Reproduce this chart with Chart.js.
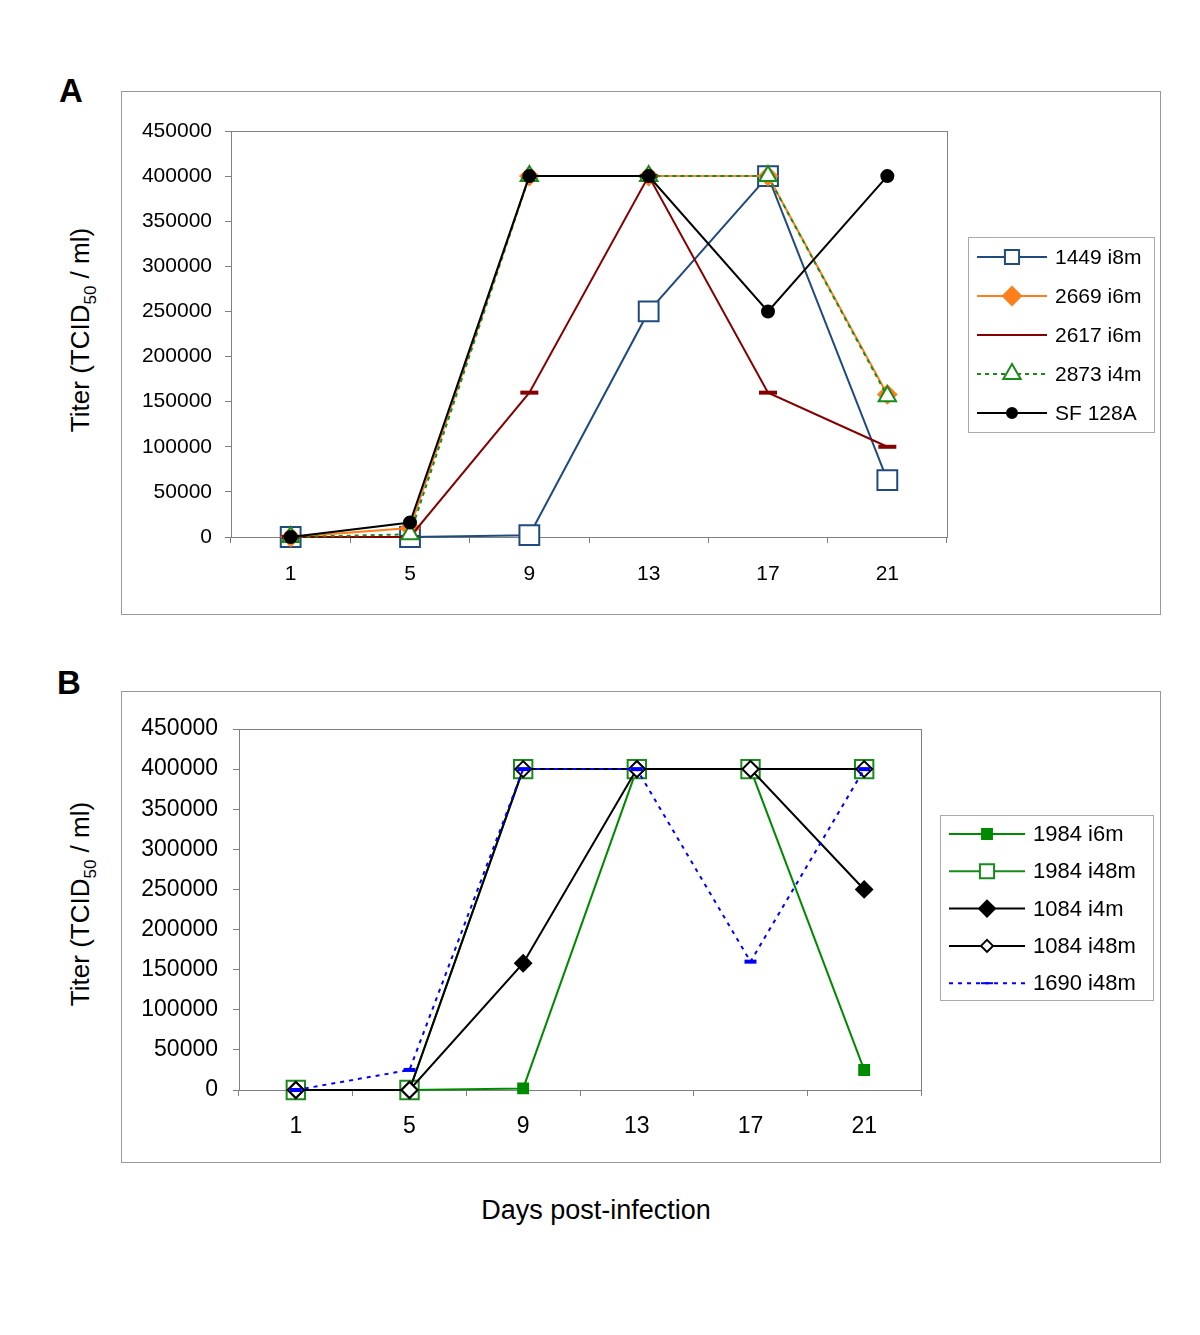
<!DOCTYPE html>
<html>
<head>
<meta charset="utf-8">
<script src="https://cdn.jsdelivr.net/npm/chart.js@4.4.1/dist/chart.umd.min.js"></script>
<style>
  body { margin: 0; background: #fff; font-family: 'Liberation Sans', Arial, sans-serif; }
  #page { position: relative; width: 1200px; height: 1335px; }
  canvas { position: absolute; }
  .panel { position: absolute; font-weight: bold; font-size: 33px; }
  .ytitle { position: absolute; transform: translate(-50%, -50%) rotate(-90deg); white-space: nowrap; font-size: 26px; }
  .ytitle sub { font-size: 17px; }
  .xtitle { position: absolute; left: 596px; top: 1210px; transform: translate(-50%, -50%); font-size: 27px; white-space: nowrap; }
</style>
</head>
<body>
<div id="page">
  <div class="panel" style="left:59px; top:72px;">A</div>
  <div class="panel" style="left:57px; top:664px;">B</div>
  <div class="ytitle" style="left:83px; top:330px;">Titer (TCID<sub>50</sub> / ml)</div>
  <div class="ytitle" style="left:83px; top:904px;">Titer (TCID<sub>50</sub> / ml)</div>
  <canvas id="chartA" width="1040" height="524" style="left:121px; top:91px;"></canvas>
  <canvas id="chartB" width="1040" height="472" style="left:121px; top:691px;"></canvas>
  <div class="xtitle">Days post-infection</div>
</div>
<script>
// Datos
const days = ['1', '5', '9', '13', '17', '21'];
const yTicks = [0, 50000, 100000, 150000, 200000, 250000, 300000, 350000, 400000, 450000];

// Panel A
const a1449 = [0, 0, 2000, 250000, 400000, 63000];
const a2669 = [0, 10000, 400000, 400000, 400000, 158000];
const a2617 = [0, 0, 160000, 400000, 160000, 100000];
const a2873 = [0, 3000, 400000, 400000, 400000, 156000];
const aSF128A = [0, 16000, 400000, 400000, 250000, 400000];

// Panel B
const b1984i6 = [0, 0, 2000, 400000, 400000, 25000];
const b1984i48 = [0, 0, 400000, 400000, 400000, 400000];
const b1084i4 = [0, 0, 158000, 400000, 400000, 250000];
const b1084i48 = [0, 0, 400000, 400000, 400000, 400000];
const b1690i48 = [0, 25000, 400000, 400000, 160000, 400000];

const FONT = "'Liberation Sans', Arial, sans-serif";

// marco del grafico + leyenda en caja
const framePlugin = {
  id: 'frame',
  beforeDraw(chart) {
    const ctx = chart.ctx;
    ctx.save();
    ctx.fillStyle = '#fff';
    ctx.fillRect(0, 0, chart.width, chart.height);
    ctx.strokeStyle = '#999';
    ctx.lineWidth = 1;
    ctx.strokeRect(0.5, 0.5, chart.width - 1, chart.height - 1);
    ctx.restore();
  },
  beforeDatasetsDraw(chart) {
    const a = chart.chartArea;
    const ctx = chart.ctx;
    ctx.save();
    ctx.strokeStyle = '#808080';
    ctx.lineWidth = 1;
    ctx.strokeRect(Math.round(a.left) + 0.5, Math.round(a.top) + 0.5, Math.round(a.right - a.left), Math.round(a.bottom - a.top));
    ctx.restore();
  },
  afterDraw(chart, args, o) {
    const ctx = chart.ctx;
    ctx.save();
    ctx.strokeStyle = '#aaa';
    ctx.lineWidth = 1;
    ctx.strokeRect(o.x + 0.5, o.y + 0.5, o.w, o.h);
    chart.data.datasets.forEach((ds, i) => {
      const y = o.y + o.first + i * o.gap;
      ctx.beginPath();
      ctx.setLineDash(ds.borderDash || []);
      ctx.strokeStyle = ds.borderColor;
      ctx.lineWidth = ds.borderWidth;
      ctx.moveTo(o.x + o.l0, y);
      ctx.lineTo(o.x + o.l1, y);
      ctx.stroke();
      ctx.setLineDash([]);
      ctx.fillStyle = ds.pointBackgroundColor;
      ctx.strokeStyle = ds.pointBorderColor;
      Chart.helpers.drawPoint(ctx, {
        pointStyle: ds.pointStyle, rotation: 0,
        radius: ds.legendRadius, borderWidth: ds.pointBorderWidth
      }, o.x + (o.l0 + o.l1) / 2, y);
      ctx.fillStyle = '#000';
      ctx.font = o.font + 'px ' + FONT;
      ctx.textBaseline = 'middle';
      ctx.fillText(ds.label, o.x + o.tx, y + 1);
    });
    ctx.restore();
  }
};

function serie(label, data, color, style, radius, legendRadius, fill, extra) {
  return Object.assign({
    label, data,
    borderColor: color, borderWidth: 2,
    pointStyle: style, pointRadius: radius, legendRadius,
    pointBackgroundColor: fill, pointBorderColor: color, pointBorderWidth: 2,
    pointHoverRadius: radius, fill: false, tension: 0, clip: false
  }, extra || {});
}

function opciones(o) {
  return {
    responsive: false,
    animation: false,
    layout: { padding: { left: 0, top: o.top, right: o.right, bottom: 0 } },
    plugins: { legend: { display: false }, tooltip: { enabled: false }, frame: o.legend },
    scales: {
      x: {
        offset: true,
        grid: { display: true, drawOnChartArea: false, drawTicks: true, tickLength: 6, offset: true, color: '#808080' },
        border: { color: '#808080' },
        ticks: { color: '#000', font: { family: FONT, size: o.fs }, padding: o.xpad, maxRotation: 0 },
        afterFit(s) { s.height = o.xh; }
      },
      y: {
        min: yTicks[0], max: yTicks[yTicks.length - 1],
        grid: { display: true, drawOnChartArea: false, drawTicks: true, tickLength: 6, color: '#808080' },
        border: { color: '#808080' },
        ticks: {
          stepSize: yTicks[1] - yTicks[0], color: '#000', font: { family: FONT, size: o.fs }, padding: o.ypad,
          callback: v => String(v)
        },
        afterFit(s) { s.width = o.yw; }
      }
    }
  };
}

function ordenar(sets) {
  sets.forEach((d, i) => { d.order = sets.length - i; });
  return sets;
}

new Chart(document.getElementById('chartA').getContext('2d'), {
  type: 'line',
  data: {
    labels: days,
    datasets: ordenar([
      serie('1449 i8m', a1449, '#1f4b7e', 'rect', 14, 10, '#fff'),
      serie('2669 i6m', a2669, '#ff7f1a', 'rectRot', 9, 9, '#ff7f1a'),
      serie('2617 i6m', a2617, '#850000', 'line', 9, 8, '#850000', { pointBorderWidth: 4 }),
      serie('2873 i4m', a2873, '#1a8a1a', 'triangle', 10, 10, '#fff', { borderDash: [4, 4] }),
      serie('SF 128A', aSF128A, '#000', 'circle', 6, 5, '#000')
    ])
  },
  options: opciones({
    top: 40, right: 214, xh: 78, yw: 110, fs: 21, xpad: 19, ypad: 13,
    legend: { x: 847, y: 146, w: 186, h: 195, first: 20, gap: 39, l0: 9, l1: 79, tx: 87, font: 21 }
  }),
  plugins: [framePlugin]
});

new Chart(document.getElementById('chartB').getContext('2d'), {
  type: 'line',
  data: {
    labels: days,
    datasets: ordenar([
      serie('1984 i6m', b1984i6, '#008a00', 'rect', 7, 7, '#008a00'),
      serie('1984 i48m', b1984i48, '#1a8a1a', 'rect', 13, 10, '#fff'),
      serie('1084 i4m', b1084i4, '#000', 'rectRot', 8, 8, '#000'),
      serie('1084 i48m', b1084i48, '#000', 'rectRot', 8, 6, '#fff'),
      serie('1690 i48m', b1690i48, '#0000ff', 'line', 6, 6, '#0000ff', { pointBorderWidth: 4, borderDash: [4, 5] })
    ])
  },
  options: opciones({
    top: 38, right: 240, xh: 73, yw: 118, fs: 23, xpad: 17, ypad: 15,
    legend: { x: 819, y: 124, w: 213, h: 185, first: 19, gap: 37.3, l0: 9, l1: 85, tx: 93, font: 22 }
  }),
  plugins: [framePlugin]
});
</script>
</body>
</html>
